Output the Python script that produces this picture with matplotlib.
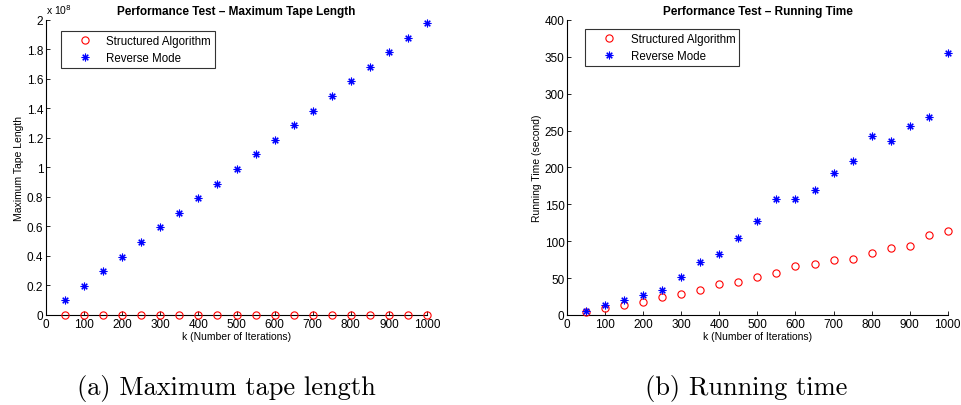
import matplotlib
matplotlib.use("Agg")
import matplotlib.pyplot as plt

k = [50, 100, 150, 200, 250, 300, 350, 400, 450, 500,
     550, 600, 650, 700, 750, 800, 850, 900, 950, 1000]

tape_structured = [0.2e5, 0.3e5, 0.4e5, 0.5e5, 0.6e5, 0.7e5, 0.8e5, 0.9e5, 1.0e5, 1.1e5,
                   1.2e5, 1.3e5, 1.4e5, 1.5e5, 1.6e5, 1.7e5, 1.8e5, 1.9e5, 2.0e5, 2.1e5]
tape_reverse = [0.099e8, 0.198e8, 0.297e8, 0.396e8, 0.495e8, 0.594e8, 0.693e8, 0.792e8,
                0.891e8, 0.990e8, 1.089e8, 1.188e8, 1.287e8, 1.386e8, 1.485e8, 1.584e8,
                1.683e8, 1.782e8, 1.881e8, 1.980e8]

time_structured = [4.5, 9.5, 13.6, 17.6, 24.4, 29, 34, 41.6, 44.3, 51.6,
                   56.6, 66.5, 68.8, 75, 75.6, 84.6, 91, 93.2, 108, 114.5]
time_reverse = [5.4, 13.6, 20, 26.7, 34.4, 52, 71.5, 82.4, 104, 127,
                156.6, 156.6, 169, 193, 208.6, 243, 236, 256, 268, 355]

xticks = [0, 100, 200, 300, 400, 500, 600, 700, 800, 900, 1000]
tape_yticks = [0, 0.2e8, 0.4e8, 0.6e8, 0.8e8, 1.0e8, 1.2e8, 1.4e8, 1.6e8, 1.8e8, 2.0e8]
tape_yticklabels = ["0", "0.2", "0.4", "0.6", "0.8", "1", "1.2", "1.4", "1.6", "1.8", "2"]
time_yticks = [0, 50, 100, 150, 200, 250, 300, 350, 400]

series_labels = ["Structured Algorithm", "Reverse Mode"]
titles = ["Performance Test \u2013 Maximum Tape Length", "Performance Test \u2013 Running Time"]
ylabels = ["Maximum Tape Length", "Running Time (second)"]
xlabel = "k (Number of Iterations)"
captions = ["(a) Maximum tape length", "(b) Running time"]

plt.rcParams['font.family'] = ['Liberation Sans', 'DejaVu Sans']

fig = plt.figure(figsize=(9.61, 4.06), dpi=100)
ax1 = fig.add_axes([0.0479, 0.2217, 0.3964, 0.7266])
ax2 = fig.add_axes([0.5903, 0.2217, 0.3958, 0.7266])

star = (8, 2, 0)

def style(ax):
    for s in ["top", "right"]:
        ax.spines[s].set_visible(False)
    ax.spines["left"].set_linewidth(0.8)
    ax.spines["bottom"].set_linewidth(0.8)
    ax.tick_params(direction="in", length=3, width=0.6, labelsize=8.5, pad=2)
    ax.set_xlim(0, 1000)
    ax.set_xticks(xticks)
    ax.set_xlabel(xlabel, fontsize=7.5, labelpad=1)

def draw(ax, y_s, y_r):
    ax.plot(k, y_s, linestyle="none", marker="o", markerfacecolor="none",
            markeredgecolor="red", markersize=5.2, markeredgewidth=0.8,
            label=series_labels[0], clip_on=False, zorder=3)
    ax.plot(k, y_r, linestyle="none", marker=star, color="blue",
            markersize=5.5, markeredgewidth=0.8, label=series_labels[1],
            clip_on=False, zorder=3)

draw(ax1, tape_structured, tape_reverse)
style(ax1)
ax1.set_ylim(0, 2e8)
ax1.set_yticks(tape_yticks)
ax1.set_yticklabels(tape_yticklabels)
ax1.set_ylabel(ylabels[0], fontsize=7.5, labelpad=2)
ax1.set_title(titles[0], fontsize=8.5, fontweight="bold", pad=4)
ax1.text(0.0, 1.015, r"x 10$^{8}$", transform=ax1.transAxes, fontsize=7.5,
         ha="left", va="bottom")

draw(ax2, time_structured, time_reverse)
style(ax2)
ax2.set_ylim(0, 400)
ax2.set_yticks(time_yticks)
ax2.set_ylabel(ylabels[1], fontsize=7.5, labelpad=2)
ax2.set_title(titles[1], fontsize=8.5, fontweight="bold", pad=4)

for ax, anchor in [(ax1, (0.039, 0.962)), (ax2, (0.047, 0.968))]:
    leg = ax.legend(loc="upper left", bbox_to_anchor=anchor, fontsize=8.3,
                    frameon=True, fancybox=False, handlelength=3.4,
                    handletextpad=0.2, borderpad=0.35, labelspacing=0.4,
                    markerscale=1.0, borderaxespad=0)
    leg.get_frame().set_edgecolor("black")
    leg.get_frame().set_linewidth(0.8)

fig.text(0.080, 0.044, captions[0], family="cmr10", fontsize=19, ha="left", va="center")
fig.text(0.671, 0.044, captions[1], family="cmr10", fontsize=19, ha="left", va="center")

fig.savefig("out.png", dpi=100)
